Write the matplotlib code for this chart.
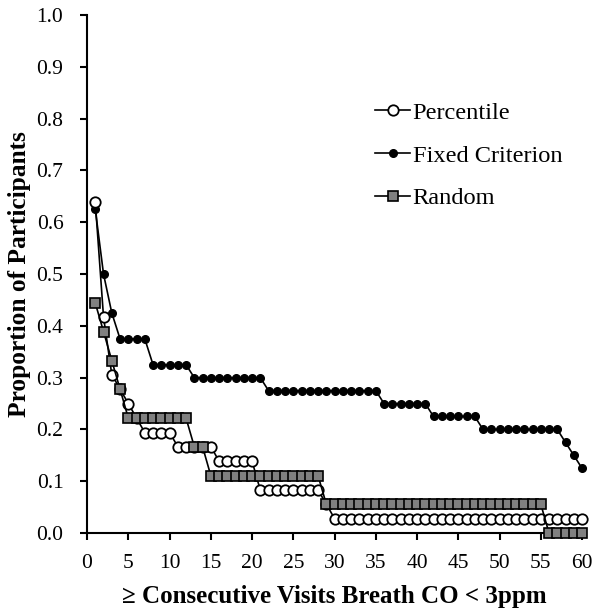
import numpy as np
import matplotlib
matplotlib.use("Agg")
import matplotlib.pyplot as plt

# === DATA ===
visits = list(range(1, 61))

# Percentile (multiples of 1/36)
percentile = ([0.639, 0.417, 0.306, 0.278, 0.250, 0.222]
              + [0.194] * 4 + [0.167] * 5 + [0.139] * 5 + [0.083] * 8
              + [0.056] + [0.028] * 31)

# Fixed criterion (multiples of 1/40)
fixed = ([0.625, 0.500, 0.425] + [0.375] * 4 + [0.325] * 5 + [0.300] * 9
         + [0.275] * 14 + [0.250] * 6 + [0.225] * 6 + [0.200] * 10
         + [0.175, 0.150, 0.125])

# Random (multiples of 1/18)
random_ = ([0.444, 0.389, 0.333, 0.278] + [0.222] * 8 + [0.167] * 2
           + [0.111] * 14 + [0.056] * 27 + [0.0] * 5)

x_ticks = list(range(0, 61, 5))
y_ticks = [round(v * 0.1, 1) for v in range(11)]

# === FIGURE ===
plt.rcParams['font.family'] = ['Liberation Serif', 'DejaVu Serif']
fig = plt.figure(figsize=(6.01, 6.16), dpi=100)
ax = fig.add_axes([0.1448, 0.1347, 0.9684 - 0.1448, 0.9756 - 0.1347])

ax.plot(visits, fixed, color='black', lw=1.2, marker='o', ms=5.5,
        mfc='black', mec='black', label='Fixed Criterion', clip_on=False, zorder=3)
ax.plot(visits, percentile, color='black', lw=1.2, marker='o', ms=7.5,
        mfc='white', mec='black', mew=1.3, label='Percentile', clip_on=False, zorder=4)
ax.plot(visits, random_, color='black', lw=1.2, marker='s', ms=7,
        mfc='#808080', mec='black', mew=1.2, label='Random', clip_on=False, zorder=5)

ax.set_xlim(0, 60)
ax.set_ylim(0, 1.0)
ax.set_xticks(x_ticks)
ax.set_yticks(y_ticks)
ax.set_yticklabels([f"{v:.1f}" for v in y_ticks])

for s in ['top', 'right']:
    ax.spines[s].set_visible(False)
for s in ['left', 'bottom']:
    ax.spines[s].set_linewidth(1.5)
ax.tick_params(direction='out', length=5, width=1.5, labelsize=15.5)
ax.tick_params(axis='y', pad=12)
ax.tick_params(axis='x', pad=10)

ax.set_xlabel('≥ Consecutive Visits Breath CO < 3ppm', fontsize=18,
              fontweight='bold', labelpad=9)
ax.set_ylabel('Proportion of Participants', fontsize=18.3, fontweight='bold',
              labelpad=4)

handles, labels = ax.get_legend_handles_labels()
order = [1, 0, 2]
ax.legend([handles[i] for i in order], [labels[i] for i in order],
          loc='upper left', bbox_to_anchor=(0.537, 0.875), frameon=False,
          fontsize=17.6, handlelength=1.45, handletextpad=0.1, labelspacing=0.84)

plt.savefig('out.png', dpi=100)
